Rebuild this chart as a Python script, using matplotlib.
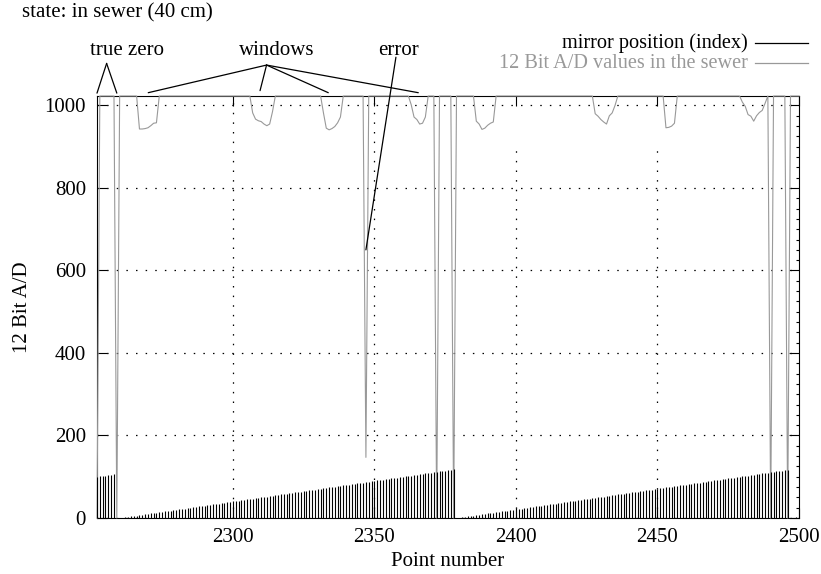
import numpy as np
import matplotlib
matplotlib.use("Agg")
import matplotlib.pyplot as plt
from matplotlib.ticker import MultipleLocator
from matplotlib.lines import Line2D

plt.rcParams['font.family'] = ['Liberation Serif', 'DejaVu Serif']

# ---------------- data ----------------
point_numbers = np.arange(2252, 2501)

mirror_position = [
    100, 101, 102, 103, 104, 105, 106,
    0,
    0, 1, 2, 3, 4, 5, 6, 7, 8, 9, 10, 11, 12, 13, 14, 15, 16, 17, 18, 19,
    20, 21, 22, 23, 24, 25, 26, 27, 28, 29, 30, 31, 32, 33, 34, 35, 36, 37, 38, 39,
    40, 41, 42, 43, 44, 45, 46, 47, 48, 49, 50, 51, 52, 53, 54, 55, 56, 57, 58, 59,
    60, 61, 62, 63, 64, 65, 66, 67, 68, 69, 70, 71, 72, 73, 74, 75, 76, 77, 78, 79,
    80, 81, 82, 83, 84, 85, 86, 87, 88, 89, 90, 91, 92, 93, 94, 95, 96, 97, 98, 99,
    100, 101, 102, 103, 104, 105, 106, 107, 108, 109, 110, 111, 112, 113, 114, 115, 116, 117, 118,
    0, 1, 2, 3, 4, 5, 6, 7, 8, 9, 10, 11, 12, 13, 14, 15, 16, 17, 18, 19,
    20, 21, 22, 23, 24, 25, 26, 27, 28, 29, 30, 31, 32, 33, 34, 35, 36, 37, 38, 39,
    40, 41, 42, 43, 44, 45, 46, 47, 48, 49, 50, 51, 52, 53, 54, 55, 56, 57, 58, 59,
    60, 61, 62, 63, 64, 65, 66, 67, 68, 69, 70, 71, 72, 73, 74, 75, 76, 77, 78, 79,
    80, 81, 82, 83, 84, 85, 86, 87, 88, 89, 90, 91, 92, 93, 94, 95, 96, 97, 98, 99,
    100, 101, 102, 103, 104, 105, 106, 107, 108, 109, 110, 111, 112, 113, 114, 115, 116, 117,
    0, 1, 2, 3,
]

# A/D values (breakpoints; flat at 1023 between them)
ad_points = [
    2252, 2253, 2258, 2259, 2260,
    2266, 2267, 2268, 2269, 2270, 2271, 2272, 2273, 2274,
    2306, 2307, 2308, 2309, 2310, 2311, 2312, 2313, 2314, 2315,
    2331, 2332, 2333, 2334, 2335, 2336, 2337, 2338, 2339,
    2346, 2347, 2348,
    2362, 2363, 2364, 2365, 2366, 2367, 2368, 2369,
    2371, 2372, 2373,
    2377, 2378, 2379,
    2385, 2386, 2387, 2388, 2389, 2390, 2391, 2392, 2393,
    2427, 2428, 2429, 2430, 2431, 2432, 2433, 2434, 2435, 2436,
    2452, 2453, 2454, 2455, 2456, 2457,
    2479, 2480, 2481, 2482, 2483, 2484, 2485, 2486, 2487, 2488, 2489,
    2490, 2491,
    2495, 2496, 2497,
    2500,
]
ad_values = [
    0, 1023, 1023, 0, 1023,
    1023, 943, 943, 944, 946, 951, 957, 958, 1023,
    1023, 982, 967, 963, 961, 955, 951, 955, 985, 1023,
    1023, 982, 945, 941, 944, 949, 958, 972, 1023,
    1023, 147, 1023,
    1023, 1002, 972, 966, 955, 957, 972, 1023,
    1023, 0, 1023,
    1023, 0, 1023,
    1023, 962, 955, 942, 945, 952, 957, 960, 1023,
    1023, 980, 974, 966, 960, 955, 975, 982, 1000, 1023,
    1023, 946, 947, 950, 957, 1023,
    1023, 1008, 998, 978, 974, 962, 975, 983, 988, 1005, 1023,
    0, 1023,
    1023, 0, 1023,
    1023,
]

x_ticks = [2300, 2350, 2400, 2450, 2500]
y_ticks = [0, 200, 400, 600, 800, 1000]
full_vgrid = [2300, 2350]
short_vgrid = [2400, 2450]

title_text = "state: in sewer (40 cm)"
label_mirror = "mirror position (index)"
label_ad = "12 Bit A/D values in the sewer"

GRAY = '#999999'
FS = 15
FS_LEG = 14.6

# ---------------- figure ----------------
fig = plt.figure(figsize=(8.21, 5.74), dpi=100)
W, H = 821, 574
ax = fig.add_axes([97 / W, 1 - 518 / H, (799 - 97) / W, (518 - 96) / H])

ax.plot(ad_points, ad_values, color=GRAY, lw=0.8, zorder=3, clip_on=False)
ax.vlines(point_numbers, 0, mirror_position, color='black', lw=0.8, zorder=4)

ax.set_xlim(2252, 2500)
ax.set_ylim(0, 1023)
ax.set_xticks(x_ticks)
ax.set_yticks(y_ticks)
ax.yaxis.set_minor_locator(MultipleLocator(25))

dots = (0, (1.2, 6.5))
ax.grid(axis='y', which='major', color='black', ls=dots, lw=0.9, zorder=1)
for gx in full_vgrid:
    ax.axvline(gx, color='black', ls=dots, lw=0.9, zorder=1)
for gx in short_vgrid:
    ax.axvline(gx, ymax=0.889, color='black', ls=dots, lw=0.9, zorder=1)

ax.tick_params(which='major', direction='in', length=7, width=0.8,
               top=True, right=True, labelsize=FS)
ax.tick_params(axis='y', which='major', pad=8)
ax.tick_params(axis='x', which='major', pad=7)
ax.tick_params(which='minor', direction='in', length=2.5, width=0.8,
               left=False, right=True, top=False, bottom=False)
for s in ax.spines.values():
    s.set_linewidth(0.8)
    s.set_color('black')

ax.set_xlabel("Point number", fontsize=FS, labelpad=4)
ax.set_ylabel("12 Bit A/D", fontsize=FS, labelpad=9)

fig.text(22 / W, 1 - 13 / H, title_text, fontsize=FS, ha='left', va='center')

# annotations
ann_kw = dict(arrowprops=dict(arrowstyle='-', lw=0.9, color='black',
                              shrinkA=0, shrinkB=0),
              annotation_clip=False, xycoords='data', textcoords='data')
ax.text(2262.6, 1134, "true zero", fontsize=FS, ha='center', va='center', clip_on=False)
for tip in (2252, 2259):
    ax.annotate("", xy=(tip, 1030), xytext=(2255.4, 1102), **ann_kw)
ax.text(2315.6, 1134, "windows", fontsize=FS, ha='center', va='center', clip_on=False)
for tip_x, tip_y in ((2270.1, 1031), (2309.6, 1036), (2333.7, 1031), (2365.5, 1031)):
    ax.annotate("", xy=(tip_x, tip_y), xytext=(2311.9, 1098), **ann_kw)
ax.text(2358.6, 1134, "error", fontsize=FS, ha='center', va='center', clip_on=False)
ax.annotate("", xy=(2347, 650), xytext=(2357.6, 1117), **ann_kw)

# legend (manual, gnuplot style)
for row_y, txt, tcol, lcol in ((43, label_mirror, 'black', 'black'),
                               (63, label_ad, GRAY, GRAY)):
    fig.text(748 / W, 1 - row_y / H, txt, fontsize=FS_LEG, ha='right', va='center', color=tcol)
    fig.add_artist(Line2D([755 / W, 808 / W], [1 - row_y / H, 1 - row_y / H],
                          transform=fig.transFigure, color=lcol, lw=0.9))

fig.savefig("out.png", dpi=100)
